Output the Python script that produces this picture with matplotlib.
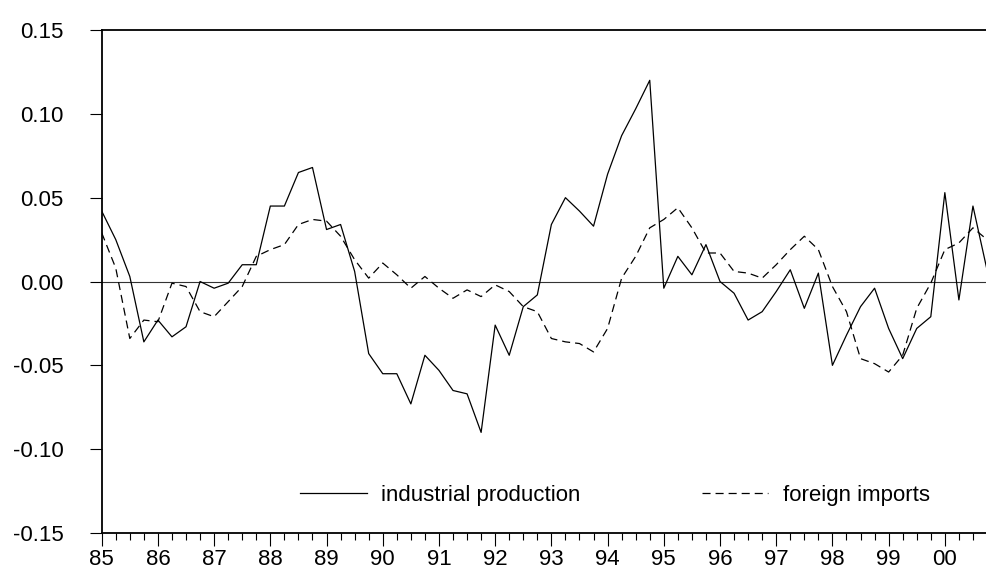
import matplotlib
matplotlib.use('Agg')
import matplotlib.pyplot as plt
import numpy as np

plt.rcParams['font.family'] = ['Liberation Sans', 'DejaVu Sans']
plt.rcParams['lines.scale_dashes'] = False

# Quarterly data, 1985Q1 onwards
start_year = 85
industrial_production = [
    0.042, 0.025, 0.003, -0.036, -0.023, -0.033, -0.027, 0.000,
    -0.004, -0.001, 0.010, 0.010, 0.045, 0.045, 0.065, 0.068,
    0.031, 0.034, 0.006, -0.043, -0.055, -0.055, -0.073, -0.044,
    -0.053, -0.065, -0.067, -0.090, -0.026, -0.044, -0.015, -0.008,
    0.034, 0.050, 0.042, 0.033, 0.064, 0.087, 0.103, 0.120,
    -0.004, 0.015, 0.004, 0.022, 0.000, -0.007, -0.023, -0.018,
    -0.006, 0.007, -0.016, 0.005, -0.050, -0.032, -0.015, -0.004,
    -0.028, -0.046, -0.028, -0.021, 0.053, -0.011, 0.045, 0.007,
]
foreign_imports = [
    0.029, 0.008, -0.034, -0.023, -0.024, -0.001, -0.003, -0.018,
    -0.021, -0.012, -0.003, 0.015, 0.019, 0.022, 0.034, 0.037,
    0.036, 0.027, 0.013, 0.002, 0.011, 0.004, -0.004, 0.003,
    -0.004, -0.010, -0.005, -0.009, -0.002, -0.006, -0.015, -0.018,
    -0.034, -0.036, -0.037, -0.042, -0.028, 0.002, 0.015, 0.032,
    0.037, 0.044, 0.032, 0.017, 0.017, 0.006, 0.005, 0.002,
    0.010, 0.019, 0.027, 0.019, -0.003, -0.018, -0.046, -0.049,
    -0.054, -0.044, -0.016, -0.001, 0.019, 0.023, 0.032, 0.025,
]
year_ticks = list(range(85, 101))
year_labels = ['%02d' % (y % 100) for y in year_ticks]
y_ticks = [-0.15, -0.10, -0.05, 0.00, 0.05, 0.10, 0.15]
series_names = ['industrial production', 'foreign imports']

W, H = 987, 569
fig = plt.figure(figsize=(W / 100, H / 100), dpi=100)
left_px, right_px, top_px, bot_px = 101.7, 987, 30, 533
ax = fig.add_axes([left_px / W, 1 - bot_px / H, (right_px - left_px) / W, (bot_px - top_px) / H])

px_per_year = 56.85
x = start_year + np.arange(len(industrial_production)) / 4.0

ax.axhline(0, color='#333333', lw=0.8, zorder=1)
l1, = ax.plot(x, industrial_production, color='black', lw=0.9, zorder=3)
l2, = ax.plot(x, foreign_imports, color='black', lw=0.9,
              linestyle=(0, (5.8, 3.6)), zorder=3)

ax.set_xlim(start_year, start_year + (right_px - left_px) / px_per_year)
ax.set_ylim(-0.15, 0.15)

ax.set_xticks(year_ticks)
ax.set_xticklabels(year_labels)
ax.set_xticks(np.arange(85, 101, 0.25), minor=True)
ax.set_yticks(y_ticks)
ax.set_yticklabels(['%.2f' % v for v in y_ticks])

ax.tick_params(axis='x', which='major', direction='out', length=9.4, width=0.8,
               pad=2, labelsize=16)
ax.tick_params(axis='x', which='minor', direction='out', length=5, width=0.8)
ax.tick_params(axis='y', which='major', direction='out', length=8.4, width=0.8,
               pad=19, labelsize=16)

for s in ['left', 'top', 'bottom']:
    ax.spines[s].set_linewidth(1.3)
ax.spines['right'].set_visible(False)

leg_y = (bot_px - 495) / (bot_px - top_px)
common = dict(loc='center left', frameon=False, borderpad=0, borderaxespad=0,
              handlelength=3.0, handletextpad=0.66, fontsize=16)
leg1 = ax.legend([l1], [series_names[0]],
                 bbox_to_anchor=((300 - left_px) / (right_px - left_px), leg_y), **common)
ax.add_artist(leg1)
leg2 = ax.legend([l2], [series_names[1]],
                 bbox_to_anchor=((701.7 - left_px) / (right_px - left_px), leg_y), **common)

fig.savefig('out.png', dpi=100)
